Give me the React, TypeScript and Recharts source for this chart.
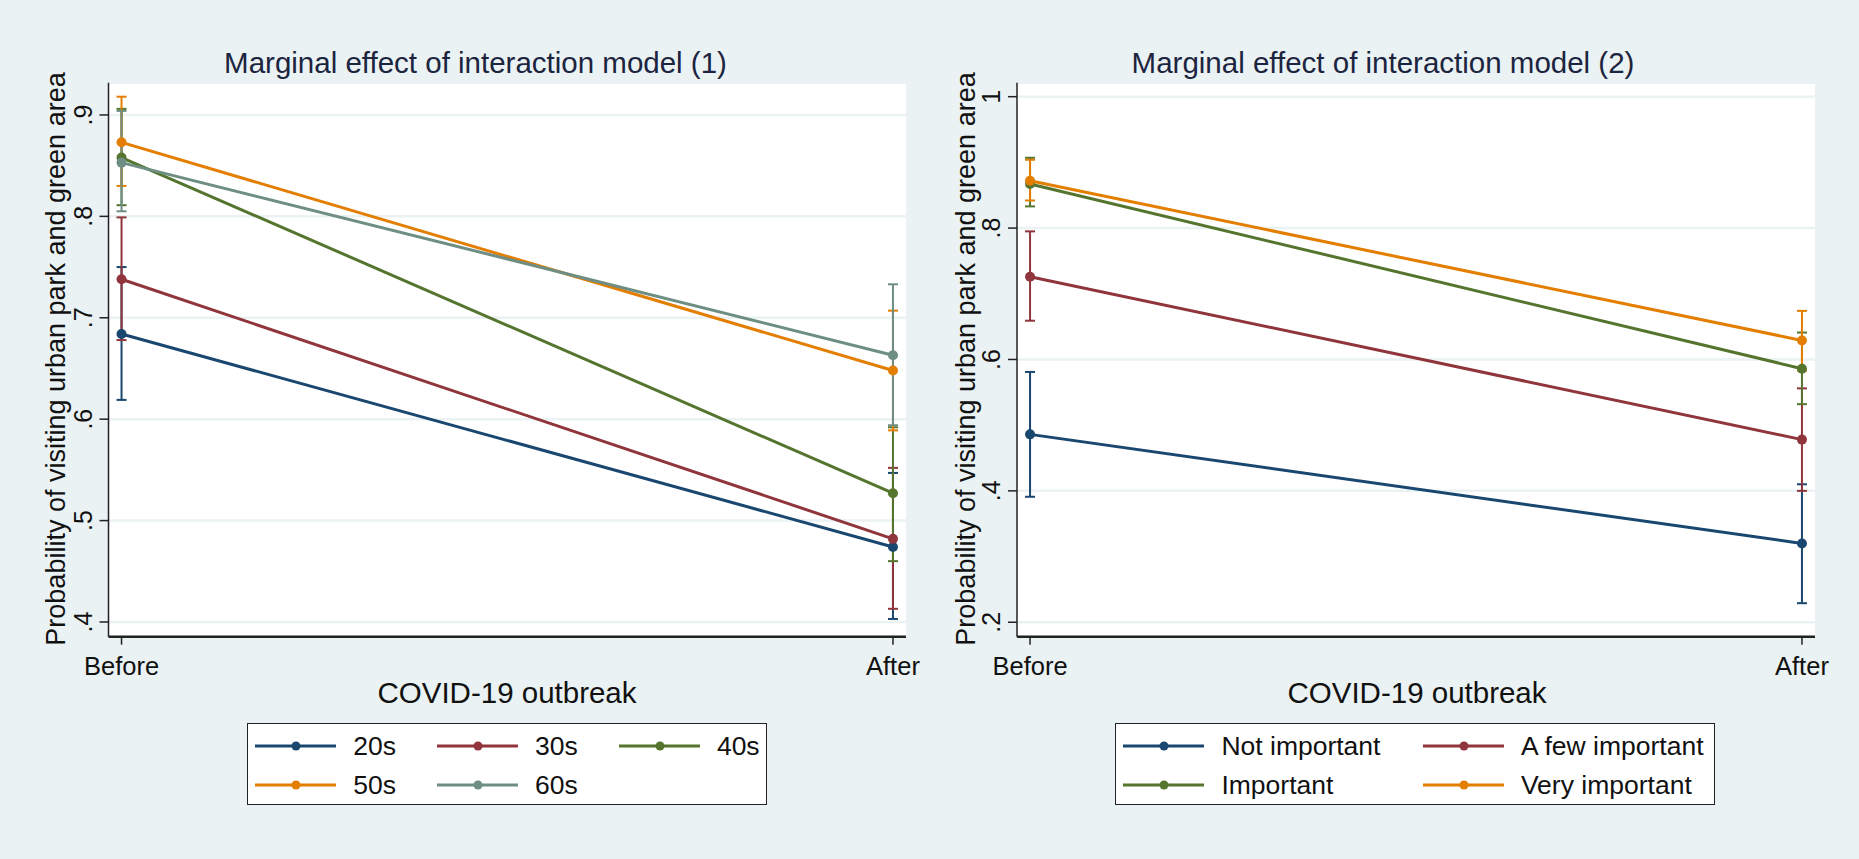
import React from "react";
import { CartesianGrid, ErrorBar, Line, LineChart, XAxis, YAxis } from "recharts";

const periods = ["Before", "After"];

// model (1): age groups, [before, after]
const ageGroups = ["20s", "30s", "40s", "50s", "60s"];
const mean20s = [0.684, 0.474];
const lo20s = [0.619, 0.403];
const hi20s = [0.75, 0.547];
const mean30s = [0.738, 0.482];
const lo30s = [0.678, 0.413];
const hi30s = [0.799, 0.552];
const mean40s = [0.858, 0.527];
const lo40s = [0.811, 0.46];
const hi40s = [0.906, 0.592];
const mean50s = [0.873, 0.648];
const lo50s = [0.83, 0.589];
const hi50s = [0.918, 0.707];
const mean60s = [0.853, 0.663];
const lo60s = [0.805, 0.594];
const hi60s = [0.904, 0.733];
const ageTicks = [0.4, 0.5, 0.6, 0.7, 0.8, 0.9];

// model (2): importance, [before, after]
const importance = ["Not important", "A few important", "Important", "Very important"];
const meanNot = [0.486, 0.32];
const loNot = [0.391, 0.229];
const hiNot = [0.581, 0.41];
const meanFew = [0.726, 0.478];
const loFew = [0.659, 0.4];
const hiFew = [0.795, 0.556];
const meanImp = [0.867, 0.586];
const loImp = [0.833, 0.532];
const hiImp = [0.907, 0.641];
const meanVery = [0.872, 0.629];
const loVery = [0.842, 0.583];
const hiVery = [0.904, 0.674];
const impTicks = [0.2, 0.4, 0.6, 0.8, 1];

// stata s2color
const colors = ["#1a476f", "#90353b", "#55752f", "#e37e00", "#6e8e84"];
const BG = "#eaf2f3";
const INK = "#111";
const FONT = "'Liberation Sans', Arial, sans-serif";

const PLOT_TOP = 82.7;
const PLOT_BOTTOM = 636.7;
const X_AXIS_H = 60;
const Y_AXIS_W = 60;

function buildRows(means: number[][], los: number[][], his: number[][]) {
  return periods.map((p, i) => {
    const row: Record<string, any> = { x: i, period: p };
    means.forEach((m, k) => {
      row[`s${k}`] = m[i];
      row[`s${k}_ci`] = [m[i] - los[k][i], his[k][i] - m[i]];
    });
    return row;
  });
}

const fmtY = (v: number) => (v === 1 ? "1" : v.toFixed(1).replace(/^0/, ""));

interface PanelProps {
  left: number;
  width: number;
  title: string;
  titleX: number;
  xTitleX: number;
  yTitleX: number;
  names: string[];
  means: number[][];
  los: number[][];
  his: number[][];
  yDomain: [number, number];
  yTicks: number[];
  plotLeft: number;
  plotRight: number;
  legendLeft: number;
  legendWidth: number;
  legendColW: number;
  legendCols: number;
}

function Legend({ p }: { p: PanelProps }) {
  return (
    <div
      style={{
        position: "absolute",
        left: p.legendLeft,
        top: 722.7,
        width: p.legendWidth,
        height: 82.3,
        boxSizing: "border-box",
        border: "1.5px solid #222",
        background: "#fff",
      }}
    >
      {p.names.map((n, k) => {
        const col = k % p.legendCols;
        const row = Math.floor(k / p.legendCols);
        return (
          <div
            key={n}
            style={{
              position: "absolute",
              left: 7 + col * p.legendColW,
              top: 22.3 + row * 39 - 12,
              height: 24,
              display: "flex",
              alignItems: "center",
              whiteSpace: "nowrap",
            }}
          >
            <svg width={82} height={24} style={{ display: "block" }}>
              <line x1={0} y1={12} x2={81} y2={12} stroke={colors[k]} strokeWidth={3} />
              <circle cx={41} cy={12} r={4.5} fill={colors[k]} />
            </svg>
            <span style={{ marginLeft: 16, fontSize: 26.5, lineHeight: "24px", color: INK, fontFamily: FONT }}>
              {n}
            </span>
          </div>
        );
      })}
    </div>
  );
}

function Panel(p: PanelProps) {
  const rows = buildRows(p.means, p.los, p.his);
  const labelX = p.plotLeft - 16.5;
  return (
    <div style={{ position: "absolute", left: p.left, top: 0, width: p.width, height: 859 }}>
      <LineChart
        width={p.width}
        height={859}
        data={rows}
        margin={{
          top: PLOT_TOP,
          right: p.width - p.plotRight,
          bottom: 859 - PLOT_BOTTOM - X_AXIS_H,
          left: p.plotLeft - Y_AXIS_W,
        }}
      >
        <CartesianGrid vertical={false} fill="#fff" stroke={BG} strokeWidth={2.5} />
        <XAxis
          dataKey="x"
          type="number"
          domain={[-0.0169, 1.0169]}
          ticks={[0, 1]}
          allowDataOverflow
          height={X_AXIS_H}
          axisLine={{ stroke: "#222", strokeWidth: 2.5 }}
          tickLine={{ stroke: "#222", strokeWidth: 1.5 }}
          tickSize={8}
          tick={(t: any) => (
            <text x={t.x} y={675} textAnchor="middle" fontSize={25.5} fill={INK} fontFamily={FONT}>
              {periods[t.payload.value]}
            </text>
          )}
        />
        <YAxis
          type="number"
          width={Y_AXIS_W}
          domain={p.yDomain}
          ticks={p.yTicks}
          allowDataOverflow
          axisLine={{ stroke: "#222", strokeWidth: 1.5 }}
          tickLine={{ stroke: "#222", strokeWidth: 1.5 }}
          tickSize={9}
          tick={(t: any) => (
            <text
              x={labelX}
              y={t.y}
              transform={`rotate(-90 ${labelX} ${t.y})`}
              textAnchor="middle"
              fontSize={25}
              fill={INK}
              fontFamily={FONT}
            >
              {fmtY(t.payload.value)}
            </text>
          )}
        />
        {/* confidence intervals first, like marginsplot */}
        {p.names.map((n, k) => (
          <Line
            key={`ci${k}`}
            dataKey={`s${k}`}
            stroke="none"
            dot={false}
            activeDot={false}
            legendType="none"
            isAnimationActive={false}
          >
            <ErrorBar dataKey={`s${k}_ci`} width={5} stroke={colors[k]} strokeWidth={2} direction="y" />
          </Line>
        ))}
        {p.names.map((n, k) => (
          <Line
            key={n}
            name={n}
            dataKey={`s${k}`}
            stroke={colors[k]}
            strokeWidth={3}
            dot={{ r: 5, fill: colors[k], stroke: colors[k], strokeWidth: 0 }}
            activeDot={false}
            isAnimationActive={false}
          />
        ))}
      </LineChart>
      <div
        style={{
          position: "absolute",
          left: p.titleX,
          top: 63,
          transform: "translate(-50%, -50%)",
          fontSize: 29.5,
          lineHeight: 1,
          whiteSpace: "nowrap",
          color: "#1c2440",
          fontFamily: FONT,
        }}
      >
        {p.title}
      </div>
      <div
        style={{
          position: "absolute",
          left: p.yTitleX,
          top: 359,
          transform: "translate(-50%, -50%) rotate(-90deg)",
          fontSize: 27,
          lineHeight: 1,
          whiteSpace: "nowrap",
          color: INK,
          fontFamily: FONT,
        }}
      >
        Probability of visiting urban park and green area
      </div>
      <div
        style={{
          position: "absolute",
          left: p.xTitleX,
          top: 693,
          transform: "translate(-50%, -50%)",
          fontSize: 29.5,
          lineHeight: 1,
          whiteSpace: "nowrap",
          color: INK,
          fontFamily: FONT,
        }}
      >
        COVID-19 outbreak
      </div>
      <Legend p={p} />
    </div>
  );
}

export default function App() {
  return (
    <div style={{ position: "absolute", left: 0, top: 0, width: 1859, height: 859, background: BG, overflow: "hidden" }}>
      <Panel
        left={0}
        width={930}
        title="Marginal effect of interaction model (1)"
        titleX={475.5}
        xTitleX={507}
        yTitleX={56}
        names={ageGroups}
        means={[mean20s, mean30s, mean40s, mean50s, mean60s]}
        los={[lo20s, lo30s, lo40s, lo50s, lo60s]}
        his={[hi20s, hi30s, hi40s, hi50s, hi60s]}
        yDomain={[0.3855, 0.9318]}
        yTicks={ageTicks}
        plotLeft={108.5}
        plotRight={906}
        legendLeft={247.3}
        legendWidth={520}
        legendColW={181.8}
        legendCols={3}
      />
      <Panel
        left={930}
        width={929}
        title="Marginal effect of interaction model (2)"
        titleX={453}
        xTitleX={487}
        yTitleX={36}
        names={importance}
        means={[meanNot, meanFew, meanImp, meanVery]}
        los={[loNot, loFew, loImp, loVery]}
        his={[hiNot, hiFew, hiImp, hiVery]}
        yDomain={[0.178, 1.0213]}
        yTicks={impTicks}
        plotLeft={87}
        plotRight={885}
        legendLeft={185.4}
        legendWidth={600}
        legendColW={299.5}
        legendCols={2}
      />
    </div>
  );
}
